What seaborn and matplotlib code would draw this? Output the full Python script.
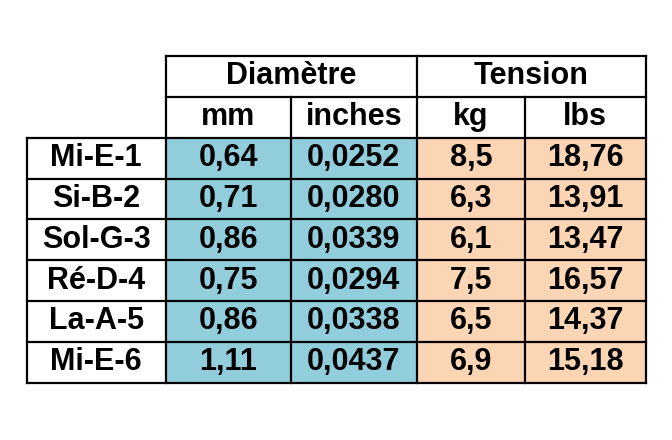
import numpy as np
import pandas as pd
import matplotlib.pyplot as plt
import seaborn as sns
from matplotlib.colors import ListedColormap

cordes = ['Mi-E-1', 'Si-B-2', 'Sol-G-3', 'Ré-D-4', 'La-A-5', 'Mi-E-6']
mm = ['0,64', '0,71', '0,86', '0,75', '0,86', '1,11']
inches = ['0,0252', '0,0280', '0,0339', '0,0294', '0,0338', '0,0437']
kg = ['8,5', '6,3', '6,1', '7,5', '6,5', '6,9']
lbs = ['18,76', '13,91', '13,47', '16,57', '14,37', '15,18']
groupes = ['Diamètre', 'Tension']
unites = ['mm', 'inches', 'kg', 'lbs']

W, H = 672, 440
fig = plt.figure(figsize=(W / 100, H / 100), dpi=100)
ax = fig.add_axes([0, 0, 1, 1])
ax.set_xlim(0, W)
ax.set_ylim(H, 0)
ax.axis('off')

# bords des colonnes et lignes (pixels)
xs = [26.7, 165.7, 290.7, 416.7, 525, 645.7]
y_top, y_mid, y_data, y_bot = 55.7, 96.7, 137.7, 382.7
ys = np.linspace(y_data, y_bot, 7)

FS = 22
police = 'Liberation Sans'

# cellules colorées avec seaborn, une colonne à la fois (largeurs inégales)
df = pd.DataFrame({'mm': mm, 'inches': inches, 'kg': kg, 'lbs': lbs}, index=cordes)
couleurs = ['#92CDDC', '#92CDDC', '#FCD5B4', '#FCD5B4']
for j, col in enumerate(df.columns):
    ax_h = fig.add_axes([xs[j + 1] / W, 1 - y_bot / H,
                         (xs[j + 2] - xs[j + 1]) / W, (y_bot - y_data) / H])
    sns.heatmap(np.zeros((len(cordes), 1)), cmap=ListedColormap([couleurs[j]]), cbar=False,
                annot=df[[col]].values, fmt='', linewidths=0, ax=ax_h,
                annot_kws={'fontsize': FS, 'fontweight': 'bold', 'color': 'black',
                           'family': police})
    ax_h.set_xticks([])
    ax_h.set_yticks([])

ax.set_zorder(5)
ax.patch.set_visible(False)

txt = dict(fontsize=FS, fontweight='bold', family=police, ha='center', va='center')
lw = 1.6
# grille
ax.plot([xs[1], xs[5]], [y_top, y_top], 'k', lw=lw)
ax.plot([xs[1], xs[5]], [y_mid, y_mid], 'k', lw=lw)
for y in ys:
    ax.plot([xs[0], xs[5]], [y, y], 'k', lw=lw)
for x in [xs[1], xs[3], xs[5]]:
    ax.plot([x, x], [y_top, y_bot], 'k', lw=lw)
for x in [xs[2], xs[4]]:
    ax.plot([x, x], [y_mid, y_bot], 'k', lw=lw)
ax.plot([xs[0], xs[0]], [y_data, y_bot], 'k', lw=lw)

ax.text((xs[1] + xs[3]) / 2, (y_top + y_mid) / 2, groupes[0], **txt)
ax.text((xs[3] + xs[5]) / 2, (y_top + y_mid) / 2, groupes[1], **txt)
for i, u in enumerate(unites):
    ax.text((xs[i + 1] + xs[i + 2]) / 2, (y_mid + y_data) / 2, u, **txt)
for i, c in enumerate(cordes):
    ax.text((xs[0] + xs[1]) / 2, (ys[i] + ys[i + 1]) / 2, c, **txt)

fig.savefig('out.png', dpi=100)
